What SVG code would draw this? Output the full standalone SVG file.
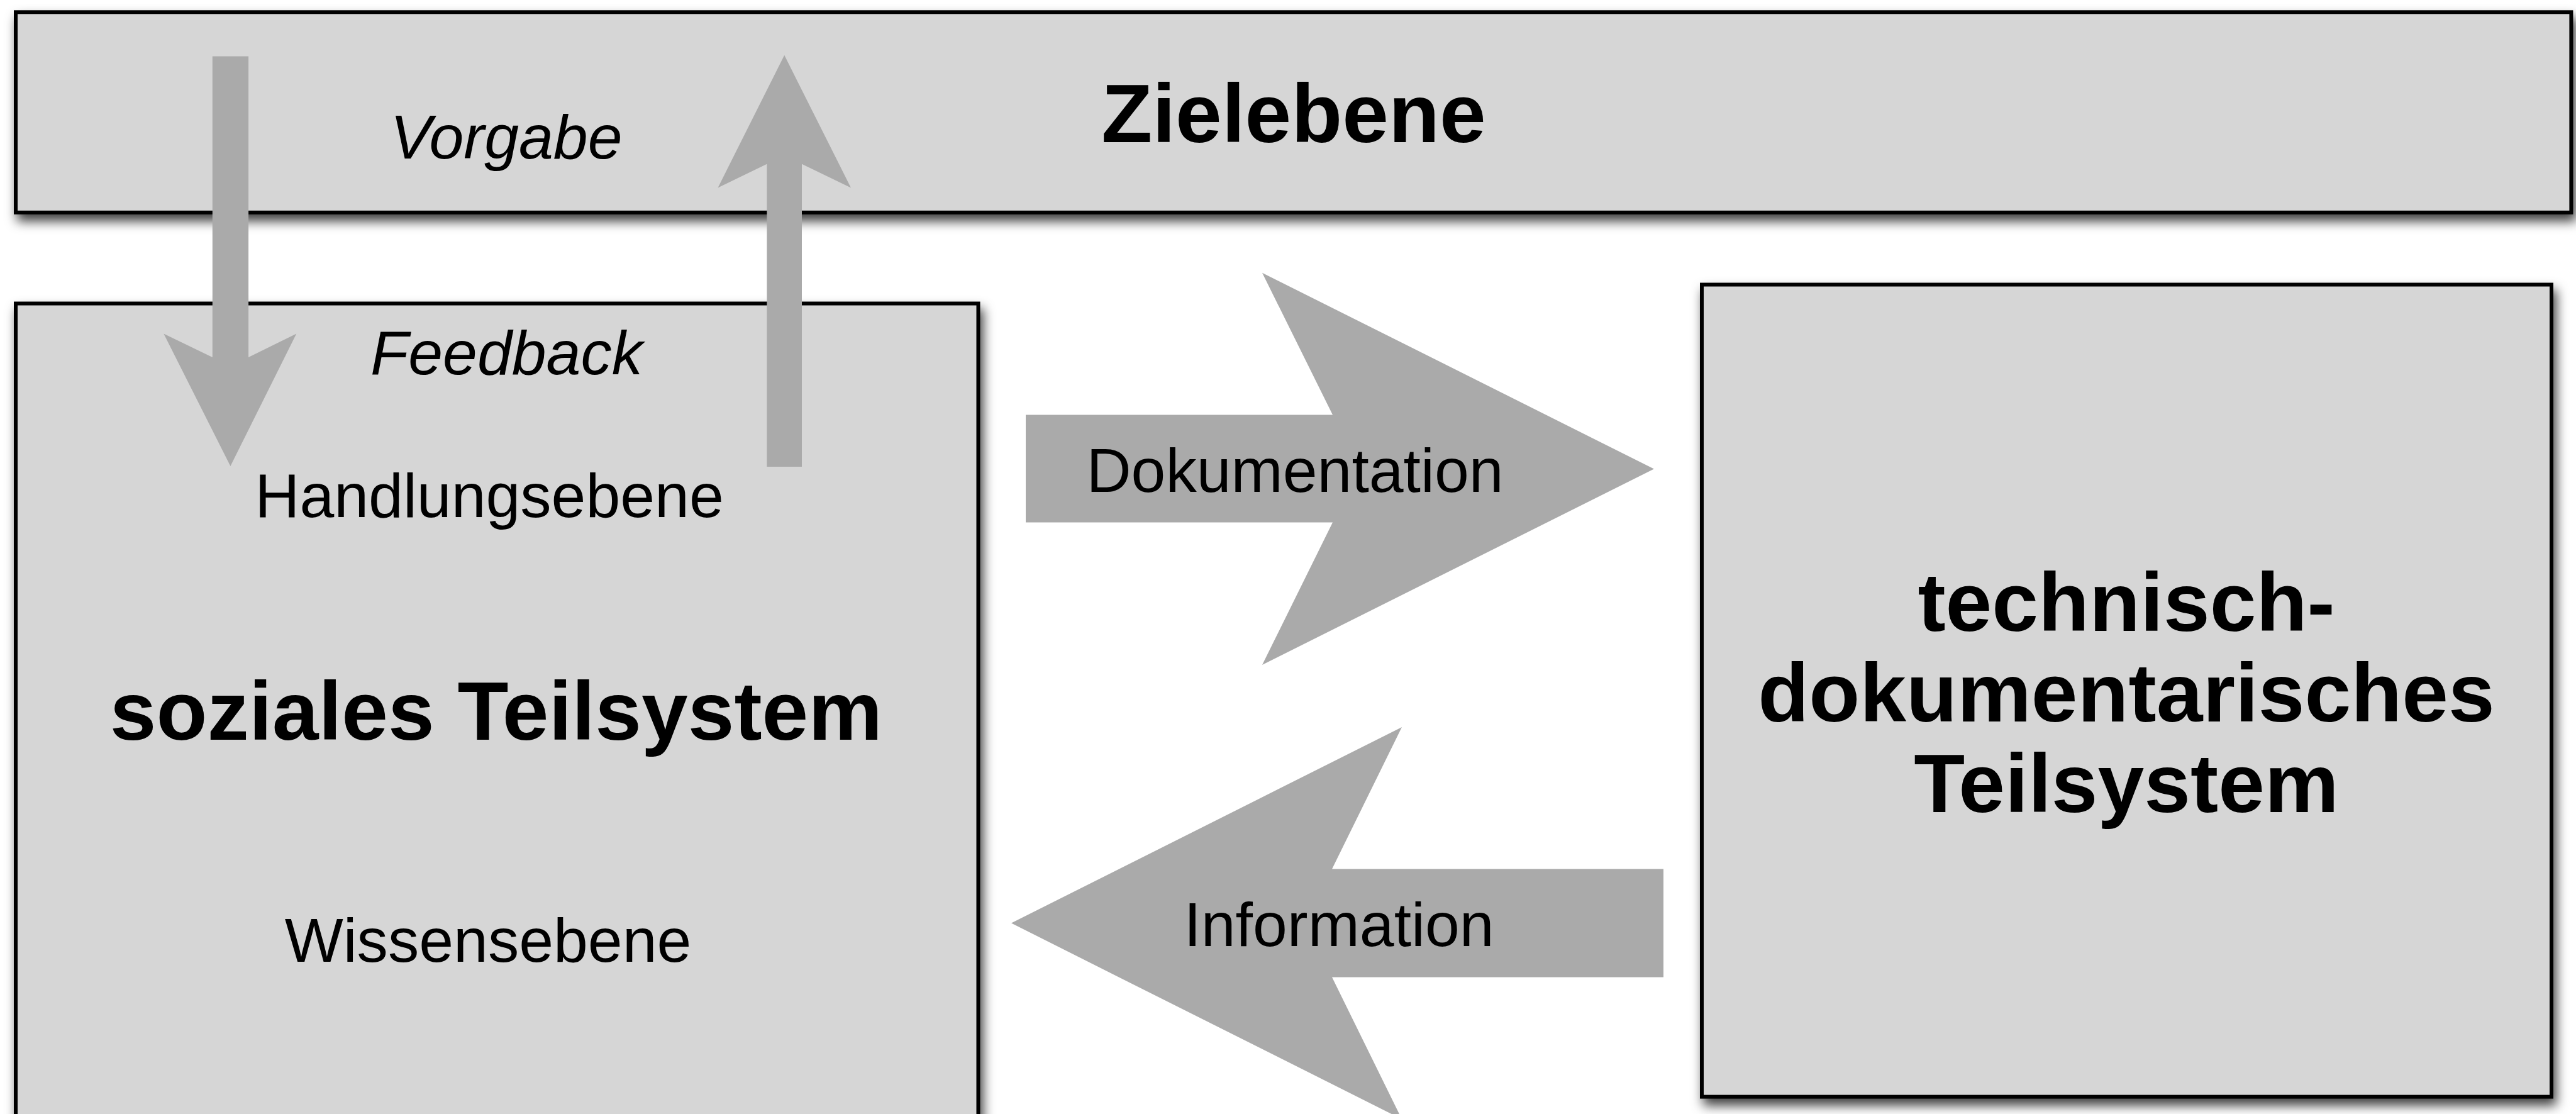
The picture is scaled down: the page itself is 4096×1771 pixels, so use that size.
<svg xmlns="http://www.w3.org/2000/svg" width="4096" height="1771" viewBox="0 0 4096 1771">
  <style>
    .box { fill: #d6d6d6; stroke: #000000; stroke-width: 6; filter: url(#shadow); }
    .arrow { fill: #aaaaaa; stroke: none; }
    .title { font-family: "Liberation Sans", Arial, sans-serif; font-weight: bold; font-size: 132.6px; fill: #000000; text-anchor: middle; }
    .label { font-family: "Liberation Sans", Arial, sans-serif; font-size: 98.6px; fill: #000000; text-anchor: middle; }
    .italic { font-style: italic; }
  </style>
  <defs>
    <filter id="shadow" x="-5%" y="-10%" width="115%" height="130%">
      <feGaussianBlur in="SourceAlpha" stdDeviation="9"/>
      <feOffset dx="5" dy="11" result="blur"/>
      <feFlood flood-color="#000000" flood-opacity="0.75"/>
      <feComposite in2="blur" operator="in" result="shade"/>
      <feMerge>
        <feMergeNode in="shade"/>
        <feMergeNode in="SourceGraphic"/>
      </feMerge>
    </filter>
  </defs>
  <rect width="4096" height="1771" fill="#ffffff"/>

  <!-- goal level -->
  <g id="zielebene">
    <rect class="box" x="25" y="19.3" width="4063.4" height="318.5"/>
    <text class="title" x="2057" y="226">Zielebene</text>
  </g>

  <!-- social subsystem -->
  <g id="soziales-teilsystem">
    <rect class="box" x="25" y="482.5" width="1530.5" height="1400"/>
    <text class="title" x="789" y="1175.6">soziales Teilsystem</text>
    <text class="label" x="778" y="821.6">Handlungsebene</text>
    <text class="label" x="776" y="1528.6">Wissensebene</text>
  </g>

  <!-- technical-documentary subsystem -->
  <g id="technisch-dokumentarisches-teilsystem">
    <rect class="box" x="2706" y="452.5" width="1351" height="1291.1"/>
    <text class="title" x="3381" y="1002.6">technisch-</text>
    <text class="title" x="3381" y="1146.9">dokumentarisches</text>
    <text class="title" x="3381" y="1291.1">Teilsystem</text>
  </g>

  <!-- connectors -->
  <g id="connectors">
    <g id="vorgabe">
      <polygon class="arrow" points="337.8,89.6 395.1,89.6 395.1,568 471.3,530.4 366.4,741 260.3,530.4 337.8,568"/>
      <text class="label italic" x="805" y="252">Vorgabe</text>
    </g>
    <g id="feedback">
      <polygon class="arrow" points="1247.2,87.8 1353,298.4 1275,260.7 1275,741.9 1219.4,741.9 1219.4,260.7 1141.5,298.4"/>
      <text class="label italic" x="805.5" y="595">Feedback</text>
    </g>
    <g id="dokumentation">
      <polygon class="arrow" points="1631,659.5 2119,659.5 2007,433.7 2630,745.5 2007,1057 2119,830.6 1631,830.6"/>
      <text class="label" x="2059" y="782">Dokumentation</text>
    </g>
    <g id="information">
      <polygon class="arrow" points="2645,1381.6 2118,1381.6 2229,1156 1608,1467.6 2229,1779.2 2118,1553.6 2645,1553.6"/>
      <text class="label" x="2129" y="1503.6">Information</text>
    </g>
  </g>
</svg>
